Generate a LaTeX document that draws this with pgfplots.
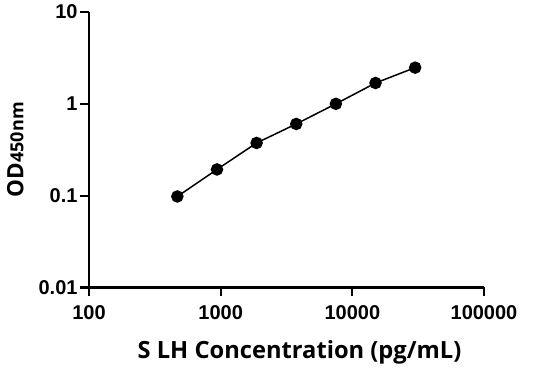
\documentclass[border=0pt]{standalone}
\usepackage{fontspec}
\setmainfont{Liberation Sans}
\newfontfamily\labfont{Open Sans}
\usepackage{pgfplots}
\pgfplotsset{compat=1.18}
\begin{document}
\begin{tikzpicture}
\useasboundingbox (-89pt,-83.5pt) rectangle (447pt,287.5pt);
\begin{axis}[
  at={(0,0)}, anchor=south west,
  scale only axis, width=395pt, height=275.5pt,
  xmode=log, ymode=log,
  xmin=100, xmax=100000, ymin=0.01, ymax=10,
  axis lines=left, axis line style={line width=2.2pt, -},
  xtick={100,1000,10000,100000},
  xticklabels={100,1000,10000,100000},
  ytick={0.01,0.1,1,10},
  yticklabels={0.01,0.1,1,10},
  xminorticks=false, yminorticks=false,
  tick style={line width=2.2pt, black},
  tick align=outside, major tick length=9pt,
  tick label style={font=\fontsize{20}{20}\selectfont\bfseries},
  xticklabel style={yshift=-6pt},
  yticklabel style={xshift=1pt},
  xlabel={\labfont\fontsize{23.7}{23.7}\selectfont\bfseries S LH Concentration (pg/mL)},
  ylabel={\labfont\fontsize{22.5}{22.5}\selectfont\bfseries OD{\fontsize{18}{18}\selectfont 450nm}},
  xlabel style={yshift=-13pt, xshift=13pt},
  ylabel style={yshift=8pt},
  clip=false,
]
\addplot[black, line width=1.5pt, mark=*, mark size=5.5pt, mark options={fill=black}]
coordinates {
(468.75,0.098)
(937.5,0.193)
(1875,0.375)
(3750,0.604)
(7500,1.0)
(15000,1.686)
(30000,2.48)
};
\end{axis}
\end{tikzpicture}
\end{document}
